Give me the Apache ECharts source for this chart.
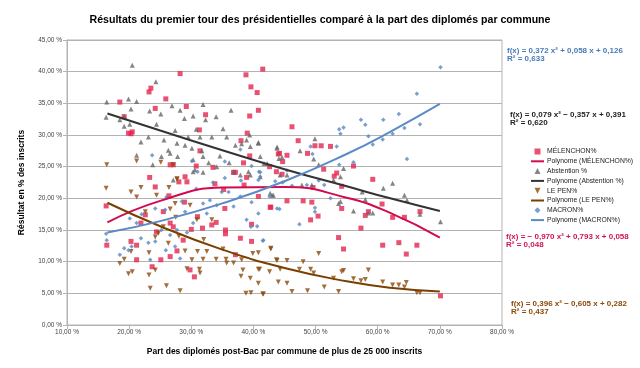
<!DOCTYPE html>
<html><head><meta charset="utf-8">
<script src="https://cdn.jsdelivr.net/npm/echarts@6/dist/echarts.min.js"></script>
<style>html,body{margin:0;padding:0;background:#fff}#c{width:640px;height:368px}</style>
</head><body><div id="c"></div>
<script>
const titleText = 'Résultats du premier tour des présidentielles comparé à la part des diplomés par commune';
const xName = 'Part des diplomés post-Bac par commune de plus de 25 000 inscrits';
const yName = 'Résultat en % des inscrits';
const seriesNames = ['MÉLENCHON%', 'Abstention %', 'LE PEN%', 'MACRON%'];

const melenchonPts = [[18.5,35.2],[19.2,32.9],[19.9,30.3],[20.3,30.2],[20.5,30.5],[23.2,36.8],[23.5,37.4],[24.2,34.2],[25.9,35.7],[28.2,39.7],[29.2,34.5],[32.3,33.2],[31.3,30.8],[31.4,27.5],[30.8,25.1],[33.5,24.9],[26.6,25.3],[27.1,25.3],[23.3,23.3],[29.0,23.4],[38.8,39.5],[41.5,40.4],[39.6,37.6],[40.6,36.7],[40.8,33.9],[39.4,33.0],[39.0,30.3],[38.0,29.1],[39.4,26.7],[38.4,25.6],[37.1,24.1],[38.9,23.3],[42.6,25.0],[44.0,27.0],[43.7,24.2],[46.2,31.3],[47.2,29.1],[49.9,28.3],[50.9,28.3],[52.4,28.2],[48.7,27.1],[45.4,26.8],[44.2,27.1],[44.7,25.8],[44.6,23.8],[51.3,24.6],[56.1,25.1],[53.4,24.0],[53.0,23.5],[59.2,23.0],[54.2,21.9],[49.6,21.7],[49.4,19.4],[48.0,19.6],[45.4,19.6],[42.8,18.6],[50.4,17.2],[49.2,16.6],[54.2,18.4],[60.7,19.1],[58.5,17.9],[58.0,17.3],[62.4,17.0],[64.3,17.0],[66.8,17.9],[57.3,15.3],[53.7,13.8],[54.5,12.0],[60.8,12.6],[63.4,13.0],[64.6,11.2],[66.3,12.6],[39.7,13.2],[39.7,15.9],[40.8,20.3],[70.1,4.6],[16.3,18.8],[16.4,12.6],[20.3,13.2],[21.2,12.6],[21.2,10.3],[24.2,21.8],[22.6,17.4],[21.9,16.1],[24.4,14.7],[25.1,10.3],[23.7,9.2],[25.5,17.9],[26.6,16.1],[27.1,15.5],[27.7,11.7],[26.6,10.8],[28.7,13.4],[29.3,22.6],[28.0,22.6],[26.4,20.4],[28.9,19.4],[30.0,15.1],[31.0,17.1],[29.8,8.7],[30.5,7.6],[31.8,15.3],[33.3,15.8],[33.8,22.3],[35.2,21.4],[35.4,18.4],[35.5,15.0],[35.5,14.4],[34.0,16.2],[36.8,24.1],[37.1,11.1],[37.9,13.7],[38.5,22.1],[42.7,18.6]];

const abstentionPts = [[16.4,35.2],[16.3,32.8],[20.5,41.0],[19.9,35.7],[21.2,35.3],[20.3,34.1],[19.2,32.9],[18.5,32.4],[19.2,31.4],[20.1,31.7],[24.3,38.4],[23.3,33.8],[25.1,33.3],[26.9,34.6],[24.4,31.7],[23.1,29.7],[21.9,28.9],[21.2,26.8],[23.8,25.3],[25.2,26.6],[26.6,27.1],[27.4,30.7],[28.2,33.9],[28.9,32.6],[30.3,33.0],[31.9,34.8],[32.3,32.4],[34.0,32.9],[36.4,33.9],[30.8,30.9],[31.4,29.7],[29.5,29.7],[29.0,28.4],[27.7,28.7],[25.6,29.2],[26.3,27.6],[27.8,26.6],[30.1,27.9],[31.7,27.5],[33.3,29.7],[35.1,31.0],[35.7,29.7],[37.1,28.4],[38.1,28.6],[38.9,29.2],[39.5,28.2],[40.8,28.8],[39.4,30.0],[41.1,26.6],[42.2,25.5],[43.8,27.9],[30.3,26.1],[31.9,26.6],[32.8,25.6],[34.6,26.7],[36.1,25.6],[36.8,24.2],[37.9,23.7],[39.2,24.2],[41.1,23.4],[34.1,25.0],[31.9,24.1],[30.6,24.5],[40.8,28.7],[43.8,28.1],[44.6,26.5],[47.5,27.5],[49.9,29.4],[49.7,26.2],[50.5,25.3],[54.0,23.4],[54.5,24.7],[47.8,22.1],[49.4,22.1],[53.7,19.2],[54.0,19.5],[56.1,18.0],[57.5,21.0],[58.0,19.8],[58.5,17.7],[59.2,17.7],[60.9,21.6],[62.4,22.4],[64.3,20.5],[64.7,19.7],[66.8,17.5],[70.1,16.3],[44.3,23.7],[45.4,23.7],[42.7,20.8],[43.2,20.5],[52.9,22.9],[27.1,22.9],[30.3,24.2],[39.5,23.7],[43.0,20.5],[44.1,26.3],[41.7,25.5]];

const lepenPts = [[16.3,21.6],[16.4,25.3],[21.2,25.9],[25.1,25.7],[27.1,25.3],[27.7,23.1],[20.3,21.0],[21.2,20.2],[21.9,21.7],[24.4,20.5],[26.4,21.7],[27.7,23.0],[27.4,19.2],[26.6,18.3],[22.6,17.9],[20.3,11.6],[19.2,10.4],[18.5,9.7],[19.9,8.1],[20.5,8.4],[23.2,11.4],[23.2,7.9],[23.4,5.8],[24.2,8.7],[24.2,13.9],[24.7,14.5],[26.0,6.2],[26.3,12.9],[28.2,5.4],[29.0,11.7],[29.3,8.9],[30.1,10.3],[31.0,11.6],[31.3,8.8],[31.4,8.2],[31.9,10.4],[32.5,11.6],[33.3,16.6],[34.0,10.4],[35.1,12.0],[35.6,10.4],[35.7,9.8],[36.8,9.8],[38.1,10.3],[38.3,8.7],[38.0,7.7],[39.5,7.4],[38.8,5.0],[39.6,5.1],[41.5,4.9],[41.0,8.8],[40.8,6.6],[39.9,11.3],[40.8,11.4],[42.8,12.0],[42.6,8.4],[43.7,10.3],[44.0,6.8],[30.9,16.6],[29.8,18.9],[42.8,12.1],[43.8,10.2],[45.4,10.2],[48.0,10.0],[50.5,11.3],[40.8,8.8],[44.3,8.8],[45.4,6.6],[46.2,5.3],[47.4,8.8],[48.7,5.4],[49.2,8.8],[49.7,8.2],[51.4,6.0],[52.9,7.4],[54.2,8.4],[54.5,8.6],[53.7,5.3],[56.1,7.3],[57.3,7.0],[58.0,7.2],[58.5,8.7],[60.8,6.8],[62.4,6.3],[63.4,6.3],[64.3,6.0],[64.6,6.7],[66.3,5.1],[66.8,5.1],[41.6,4.9],[25.5,15.5],[28.0,14.0],[32.0,13.5],[27.5,17.0]];

const macronPts = [[16.3,14.4],[16.4,13.4],[18.5,11.1],[19.2,12.1],[19.9,11.8],[20.4,12.4],[20.1,16.8],[21.2,16.1],[21.9,13.7],[23.1,13.0],[23.4,10.3],[24.2,13.2],[24.2,18.4],[25.2,15.0],[25.9,11.8],[27.4,12.4],[28.2,10.5],[26.6,14.2],[27.7,15.0],[29.0,17.9],[29.3,14.6],[30.3,16.1],[31.9,19.2],[33.0,19.7],[34.1,18.9],[34.9,21.0],[35.4,23.2],[36.8,18.7],[37.9,20.3],[38.9,16.6],[39.6,15.5],[40.8,17.6],[41.6,13.4],[40.8,22.9],[42.6,20.3],[43.8,18.4],[25.8,18.2],[32.5,17.6],[23.7,26.8],[30.1,25.9],[31.0,24.2],[35.4,25.8],[37.9,27.7],[39.7,25.1],[40.9,24.2],[70.1,40.7],[66.3,36.5],[63.4,33.3],[66.8,31.7],[64.3,31.1],[60.9,32.4],[57.3,32.4],[58.0,31.6],[58.5,29.8],[59.2,28.5],[60.8,29.3],[62.4,30.2],[64.7,26.2],[53.8,30.9],[54.5,31.2],[54.0,30.2],[53.4,28.2],[49.2,28.2],[49.5,27.0],[56.1,25.7],[53.8,25.3],[41.1,24.1],[45.4,24.4],[41.1,23.4],[43.5,22.7],[44.7,22.5],[46.2,22.0],[48.6,22.1],[50.5,22.8],[51.4,22.1],[52.4,20.0],[49.9,18.5],[49.9,17.9],[47.4,15.9],[44.2,18.3],[40.6,15.6],[41.5,13.3],[39.7,19.4],[22.0,17.5],[26.0,20.2],[28.5,19.5],[30.8,21.5],[33.5,22.5],[36.0,21.0],[38.0,22.8]];

// trend curves
const trendX = [16.5, 25, 35, 45, 55, 62, 70];
const melenchonTrend = [16.2, 19.6, 21.7, 21.8, 20.1, 17.7, 13.8];
const abstentionTrend = [33.4, 30.7, 27.6, 24.6, 21.9, 20.0, 18.0];
const lepenTrend = [19.3, 15.6, 11.9, 9.0, 6.9, 5.9, 5.3];
const macronTrend = [14.6, 16.4, 19.2, 22.7, 27.0, 30.5, 34.9];

const equations = [
  ['f(x) = 0,372 x² + 0,058 x + 0,126', 'R² = 0,633'],
  ['f(x) = 0,079 x² − 0,357 x + 0,391', 'R² = 0,620'],
  ['f(x) = − 0,970 x² + 0,793 x + 0,058', 'R² = 0,048'],
  ['f(x) = 0,396 x² − 0,605 x + 0,282', 'R² = 0,437']
];

const FONT = '"Liberation Sans", Arial, sans-serif';
const colMel = '#e3264f', colMelLine = '#d20b4f';
const colAbs = '#666666', colAbsLine = '#333333';
const colLp = '#8b4a0b', colLpLine = '#7b3f00';
const colMac = '#5a87c0', colMacLine = '#5b8bc7';

function pair(xs, ys){ return xs.map((x,i)=>[x, ys[i]]); }
const fmt = v => v.toFixed(2).replace('.', ',') + ' %';

const chart = echarts.init(document.getElementById('c'), null, {renderer:'canvas'});
const sq = 'path://M0,0L10,0L10,10L0,10Z';
const up = 'path://M5,0L10,10L0,10Z';
const down = 'path://M0,0L10,0L5,10Z';
const dia = 'path://M5,0L10,5L5,10L0,5Z';
const ln = 'path://M0,0L13,0L13,2L0,2Z';

function eqGraphic(lines, left, top, color){
  return {type:'text', left:left, top:top, style:{text: lines.join('\n'), fill: color, font: 'bold 8px ' + FONT, lineHeight: 8}};
}

chart.setOption({
  animation:false,
  backgroundColor:'#fff',
  textStyle:{fontFamily: FONT},
  title:{text: titleText, left: 'center', top: 10, textStyle:{fontSize: 10.6, fontWeight:'bold', color:'#000', fontFamily: FONT}},
  grid:{left:67, right:138, top:40, bottom:43, show:true, borderColor:'#b3b3b3', borderWidth:1},
  xAxis:{type:'value', min:10, max:80, interval:10, name: xName, nameLocation:'middle', nameGap:22,
    nameTextStyle:{fontSize:8.5, fontWeight:'bold', color:'#000'},
    axisLine:{show:true, lineStyle:{color:'#b3b3b3'}}, axisTick:{show:true, length:4, lineStyle:{color:'#b3b3b3'}},
    axisLabel:{formatter: fmt, fontSize:6.5, color:'#444', margin:4}, splitLine:{show:false}},
  yAxis:{type:'value', min:0, max:45, interval:5, name: yName, nameLocation:'middle', nameGap:41, nameRotate:90,
    nameTextStyle:{fontSize:8.5, fontWeight:'bold', color:'#000'},
    axisLine:{show:true, lineStyle:{color:'#b3b3b3'}}, axisTick:{show:true, length:4, lineStyle:{color:'#b3b3b3'}},
    axisLabel:{formatter: fmt, fontSize:6.5, color:'#444', margin:5}, splitLine:{show:true, lineStyle:{color:'#b3b3b3'}}},
  legend:{orient:'vertical', left:526, top:143, itemWidth:13, itemHeight:6, itemGap:2.8, itemStyle:{}, symbolKeepAspect:true,
    textStyle:{fontSize:6.8, color:'#222', lineHeight:6, padding:[0,0,0,-2]},
    data:[
      {name: seriesNames[0], icon: sq},
      {name: 'Polynome (' + seriesNames[0] + ')', icon: ln},
      {name: seriesNames[1], icon: up},
      {name: 'Polynome (' + seriesNames[1] + ')', icon: ln},
      {name: seriesNames[2], icon: down},
      {name: 'Polynome (' + seriesNames[2] + ')', icon: ln},
      {name: seriesNames[3], icon: dia},
      {name: 'Polynome (' + seriesNames[3] + ')', icon: ln}
    ]},
  graphic:[
    eqGraphic(equations[0], 507, 47, '#4a7ab8'),
    eqGraphic(equations[1], 510, 111, '#222222'),
    eqGraphic(equations[2], 506, 233, '#d0144f'),
    eqGraphic(equations[3], 511, 300, '#8b4a0b')
  ],
  series:[
    {name: seriesNames[0], type:'scatter', data: melenchonPts, symbol:'rect', symbolSize:5, itemStyle:{color: colMel}, z:2},
    {name: 'Polynome (' + seriesNames[0] + ')', type:'line', data: pair(trendX, melenchonTrend), smooth:true, symbol:'none', lineStyle:{color: colMelLine, width:2}, itemStyle:{color: colMelLine}, z:5},
    {name: seriesNames[1], type:'scatter', data: abstentionPts, symbol:'triangle', symbolSize:5, itemStyle:{color: colAbs}, z:2},
    {name: 'Polynome (' + seriesNames[1] + ')', type:'line', data: pair(trendX, abstentionTrend), smooth:true, symbol:'none', lineStyle:{color: colAbsLine, width:2}, itemStyle:{color: colAbsLine}, z:5},
    {name: seriesNames[2], type:'scatter', data: lepenPts, symbol:'triangle', symbolRotate:180, symbolSize:5, itemStyle:{color: colLp}, z:2},
    {name: 'Polynome (' + seriesNames[2] + ')', type:'line', data: pair(trendX, lepenTrend), smooth:true, symbol:'none', lineStyle:{color: colLpLine, width:2}, itemStyle:{color: colLpLine}, z:5},
    {name: seriesNames[3], type:'scatter', data: macronPts, symbol:'diamond', symbolSize:4.5, itemStyle:{color: colMac}, z:2},
    {name: 'Polynome (' + seriesNames[3] + ')', type:'line', data: pair(trendX, macronTrend), smooth:true, symbol:'none', lineStyle:{color: colMacLine, width:2}, itemStyle:{color: colMacLine}, z:5}
  ]
});
</script></body></html>
